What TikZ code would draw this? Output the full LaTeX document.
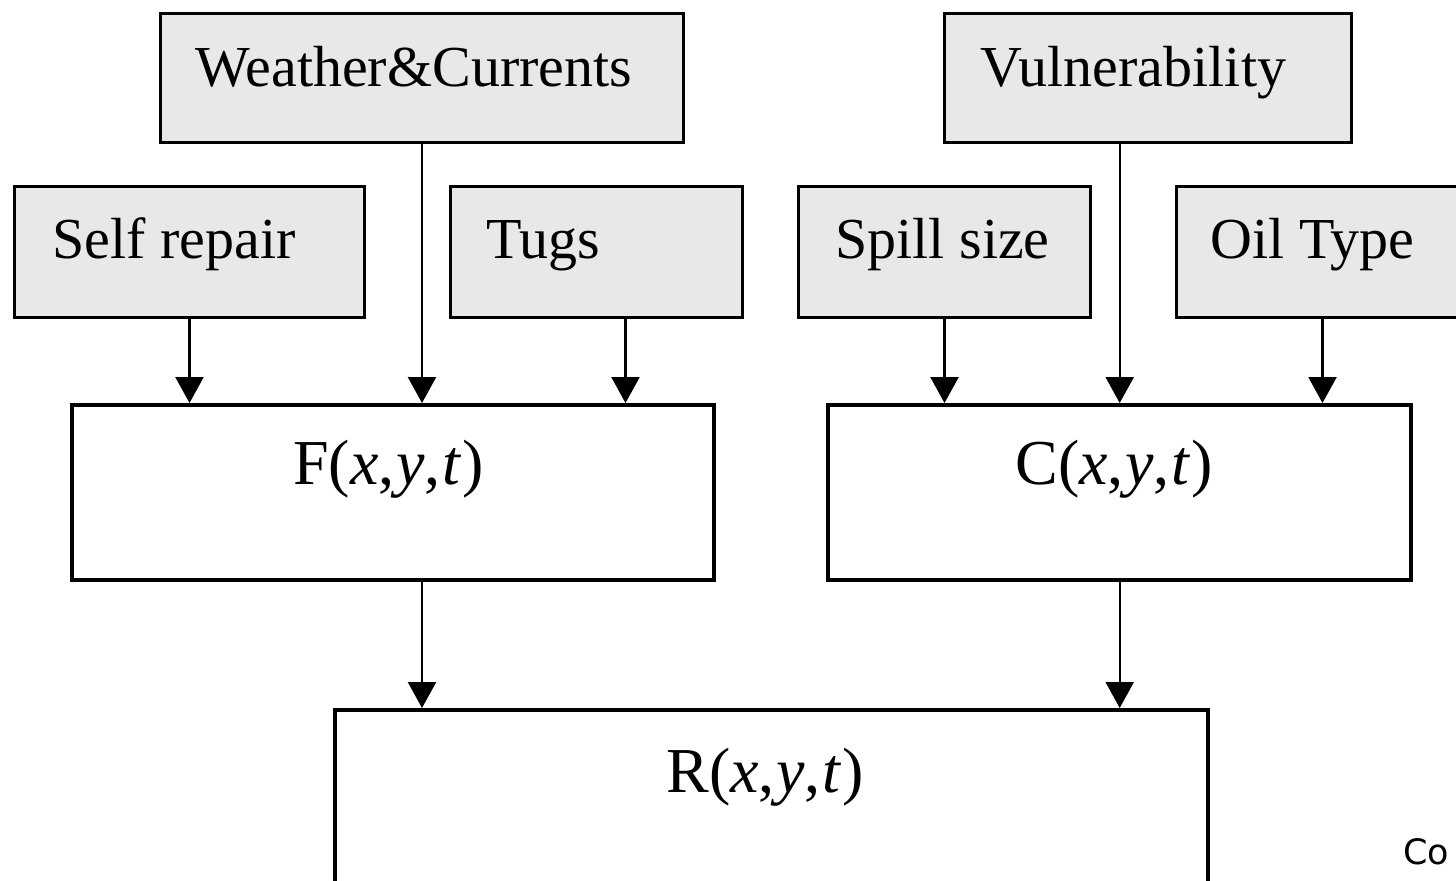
\documentclass[tikz,border=0pt]{standalone}
\usepackage{fontspec}
\setmainfont{Liberation Serif}
\newfontfamily\cofont{DejaVu Sans}
\usetikzlibrary{arrows.meta}
\definecolor{boxgray}{HTML}{E8E8E8}
\definecolor{edge}{HTML}{000000}
\newcommand{\fxyt}[1]{#1(\textit{x},\kern0.8pt\textit{y},\kern0.8pt\textit{t}\kern0.5pt)}
\begin{document}
\begin{tikzpicture}[x=0.5pt,y=-0.5pt,
  inbox/.style={draw=edge, fill=boxgray, line width=1.5pt, inner sep=0pt, anchor=north west},
  funbox/.style={draw=edge, fill=white, line width=2.2pt, inner sep=0pt, anchor=north west},
  lbl/.style={anchor=base west, inner sep=0pt, font=\fontsize{29}{34}\selectfont},
  flbl/.style={anchor=base west, inner sep=0pt, font=\fontsize{32}{38}\selectfont},
  arr/.style={draw=edge, line width=1.2pt, -{Triangle[length=13pt,width=14pt]}}]
\useasboundingbox (0,0) rectangle (1456,880);
\clip (0,0) rectangle (1456,880);
% input boxes
\node[inbox, minimum width=261.5pt, minimum height=64.5pt] (wc) at (159,12) {};
\node[inbox, minimum width=203.5pt, minimum height=64.5pt] (vul) at (943,12) {};
\node[inbox, minimum width=175pt, minimum height=65.5pt] (self) at (13,185) {};
\node[inbox, minimum width=146pt, minimum height=65.5pt] (tugs) at (449,185) {};
\node[inbox, minimum width=146pt, minimum height=65.5pt] (spill) at (797,185) {};
\node[inbox, minimum width=146pt, minimum height=65.5pt] (oil) at (1175,185) {};
% function boxes
\node[funbox, minimum width=321pt, minimum height=87.5pt] (F) at (70,403) {};
\node[funbox, minimum width=291.5pt, minimum height=87.5pt] (C) at (826,403) {};
\node[funbox, minimum width=436.5pt, minimum height=106pt] (R) at (333,708) {};
% labels
\node[lbl] (wcT) at (195,86) {Weather\&Currents};
\node[lbl] (vulT) at (980,86) {Vulnerability};
\node[lbl] (selfT) at (52,258) {Self repair};
\node[lbl] (tugsT) at (486,258) {Tugs};
\node[lbl] (spillT) at (835,258) {Spill size};
\node[lbl] (oilT) at (1210,258) {Oil Type};
\node[flbl] (FT) at (293,484) {\fxyt{F}};
\node[flbl] (CT) at (1015,484) {\fxyt{C}};
\node[flbl] (RT) at (666,792) {\fxyt{R}};
\node[anchor=base west, inner sep=0pt, font=\cofont\fontsize{17.5}{20}\selectfont] (co) at (1403,864) {Co};
% connectors
\draw[arr] (self.south) -- (self.south |- F.north);
\draw[arr] (wc.south) -- (wc.south |- F.north);
\draw[arr] ([xshift=14.5pt]tugs.south) -- ([xshift=14.5pt]tugs.south |- F.north);
\draw[arr] (spill.south) -- (spill.south |- C.north);
\draw[arr] (vul.south -| C.north) -- (C.north);
\draw[arr] (oil.south) -- (oil.south |- C.north);
\draw[arr] (F.south -| wc.south) -- (R.north -| wc.south);
\draw[arr] (C.south) -- (R.north -| C.south);
\end{tikzpicture}
\end{document}
